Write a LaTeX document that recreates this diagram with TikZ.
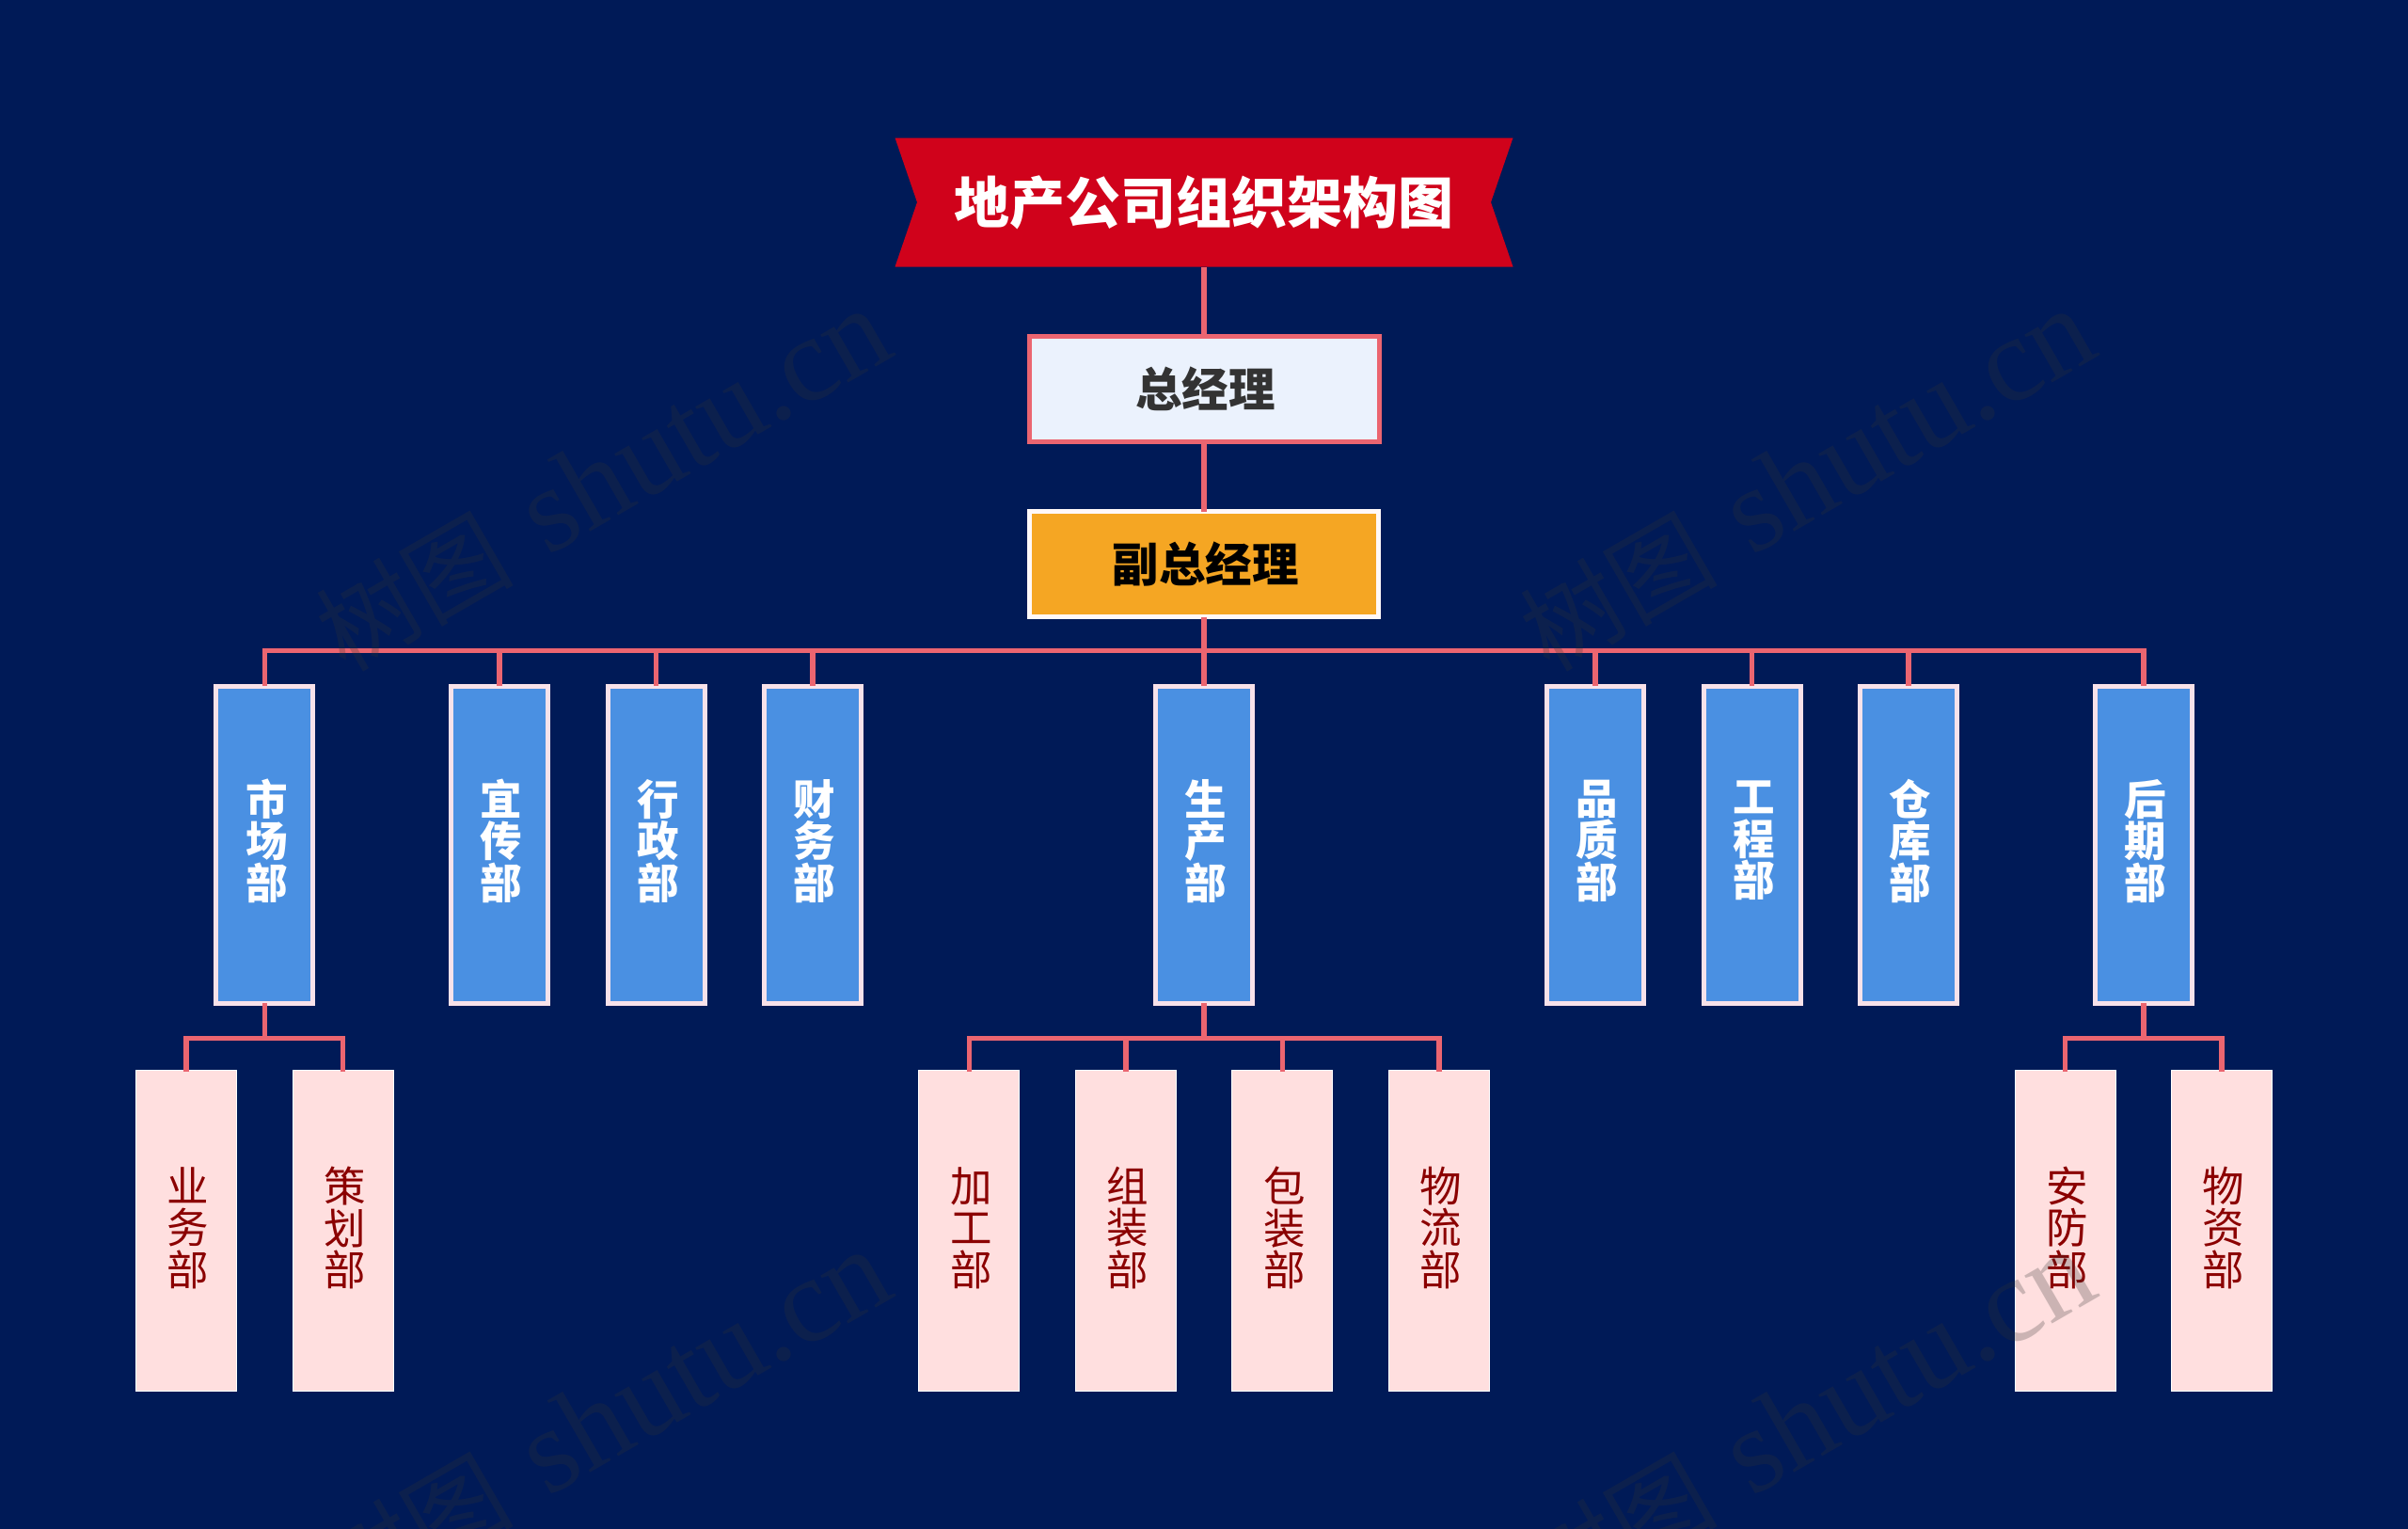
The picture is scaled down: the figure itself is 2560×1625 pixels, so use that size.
\documentclass[tikz,border=0pt]{standalone}
\usepackage{fontspec}
\usepackage{xcolor}
\usetikzlibrary{calc}
\usetikzlibrary{backgrounds}
\usetikzlibrary{positioning}
\newfontfamily\cjk{Noto Sans CJK SC}
\newfontfamily\cjkheavy{Noto Sans CJK SC Black}
\newfontfamily\markfont{Liberation Serif}
\definecolor{navy}{HTML}{001A57}
\definecolor{banner}{HTML}{D0021B}
\definecolor{link}{HTML}{EB6570}
\definecolor{deptblue}{HTML}{4A90E2}
\definecolor{deptedge}{HTML}{F8E2EA}
\definecolor{subpink}{HTML}{FFDFDF}
\definecolor{subtext}{HTML}{8B0000}
\definecolor{gmfill}{HTML}{EBF2FD}
\definecolor{vpfill}{HTML}{F5A623}
\newcommand{\vname}[3]{\hspace*{4pt}#1\\\hspace*{4pt}#2\\\hspace*{4pt}#3\\[-\vgap]\mbox{}}

\begin{document}
\begin{tikzpicture}[x=1pt, y=-1pt, draw=link, line width=5.5pt, on grid]
    \tikzstyle{heading}=[minimum width=657pt,minimum height=137pt,inner sep=0pt,outer sep=0pt,text=white,font=\cjkheavy\fontsize{59}{60}\selectfont]
    \tikzstyle{gmbox}=[draw=link,line width=5pt,fill=gmfill,minimum width=372pt,minimum height=112pt,inner sep=0pt,outer sep=0pt,text=black!80,font=\cjkheavy\fontsize{49.5}{50}\selectfont]
    \tikzstyle{vpbox}=[draw=white!90!pink,line width=5pt,fill=vpfill,minimum width=371pt,minimum height=112pt,inner sep=0pt,outer sep=0pt,text=black,font=\cjkheavy\fontsize{49.5}{50}\selectfont]
    \tikzstyle{dept}=[draw=deptedge,line width=5pt,fill=deptblue,minimum width=103pt,minimum height=337pt,inner sep=0pt,outer sep=0pt,text=white,text width=103pt,align=center,font=\cjkheavy\fontsize{44.5}{44.5}\selectfont,execute at begin node={\def\vgap{32.5pt}}]
    \tikzstyle{sub}=[draw=white,line width=1pt,fill=subpink,minimum width=107pt,minimum height=341pt,inner sep=0pt,outer sep=-1.5pt,text=subtext,text width=107pt,align=center,font=\cjk\fontsize{44.5}{44.5}\selectfont,execute at begin node={\def\vgap{35pt}}]
    \tikzstyle{wmark}=[rotate=30,text=black!80,text opacity=0.25,inner sep=0pt,font=\fontsize{128}{128}\selectfont]

    \useasboundingbox (0,0) rectangle (2560,1625);
    \begin{scope}[on background layer]
        \fill[navy] (0,0) rectangle (2560,1625);
    \end{scope}

    \node[heading] (ttl) at (1280,215) {地产公司组织架构图};
    \begin{scope}[on background layer]
        \fill[banner] (ttl.north west) -- (ttl.north east) -- ($(ttl.east)+(-23.5,0)$) -- (ttl.south east)
            -- (ttl.south west) -- ($(ttl.west)+(23.5,0)$) -- cycle;
    \end{scope}
    \node[gmbox, below=198.5pt of ttl] (gm) {\hspace*{3pt}总经理};
    \node[vpbox, below=186pt of gm] (vp) {\hspace*{3pt}副总经理};

    %%%%
    \node[dept, below=298pt of vp] (prod) {\vname{生}{产}{部}};
    \node[dept, left=416pt of prod] (fin) {\vname{财}{务}{部}};
    \node[dept, left=166.5pt of fin] (admin) {\vname{行}{政}{部}};
    \node[dept, left=166.5pt of admin] (pub) {\vname{宜}{传}{部}};
    \node[dept, left=249.75pt of pub] (mkt) {\vname{市}{场}{部}};
    \node[dept, right=416pt of prod] (qual) {\vname{品}{质}{部}};
    \node[dept, right=166.5pt of qual] (eng) {\vname{工}{程}{部}};
    \node[dept, right=166.5pt of eng] (ware) {\vname{仓}{库}{部}};
    \node[dept, right=249.75pt of ware] (post) {\vname{后}{期}{部}};

    %%%%
    \node[sub] (biz) at ($(mkt)+(-83.25,410.5)$) {\vname{业}{务}{部}};
    \node[sub, right=166.5pt of biz] (plan) {\vname{策}{划}{部}};
    \node[sub] (proc) at ($(prod)+(-249.75,410.5)$) {\vname{加}{工}{部}};
    \node[sub, right=166.5pt of proc] (asm) {\vname{组}{装}{部}};
    \node[sub, right=166.5pt of asm] (pack) {\vname{包}{装}{部}};
    \node[sub, right=166.5pt of pack] (logi) {\vname{物}{流}{部}};
    \node[sub] (sec) at ($(post)+(-83.25,410.5)$) {\vname{安}{防}{部}};
    \node[sub, right=166.5pt of sec] (mat) {\vname{物}{资}{部}};

    \coordinate (trunk) at ($(vp.south)+(0,36)$);
    \coordinate (mktfork) at ($(mkt.south)+(0,37.5)$);
    \coordinate (prodfork) at ($(prod.south)+(0,37.5)$);
    \coordinate (postfork) at ($(post.south)+(0,37.5)$);

    \draw (ttl.south) -- (gm.north);
    \draw (gm.south) -- (vp.north);
    \draw (vp.south) -- (prod.north);
    \draw (mkt.north) |- (trunk) -| (post.north);
    \draw (trunk) -| (pub.north);
    \draw (trunk) -| (admin.north);
    \draw (trunk) -| (fin.north);
    \draw (trunk) -| (qual.north);
    \draw (trunk) -| (eng.north);
    \draw (trunk) -| (ware.north);

    \draw (mkt.south) -- (mktfork);
    \draw (biz.north) |- (mktfork) -| (plan.north);
    \draw (prod.south) -- (prodfork);
    \draw (proc.north) |- (prodfork) -| (logi.north);
    \draw (prodfork) -| (asm.north);
    \draw (prodfork) -| (pack.north);
    \draw (post.south) -- (postfork);
    \draw (sec.north) |- (postfork) -| (mat.north);

    %%%%
    \node[wmark] (mark1) at (641,511) {{\cjk\fontsize{105}{105}\selectfont 树图} {\markfont shutu.cn}};
    \node[wmark] (mark2) at (1921,511) {{\cjk\fontsize{105}{105}\selectfont 树图} {\markfont shutu.cn}};
    \node[wmark] (mark3) at (641,1511) {{\cjk\fontsize{105}{105}\selectfont 树图} {\markfont shutu.cn}};
    \node[wmark] (mark4) at (1921,1511) {{\cjk\fontsize{105}{105}\selectfont 树图} {\markfont shutu.cn}};
\end{tikzpicture}
\end{document}
